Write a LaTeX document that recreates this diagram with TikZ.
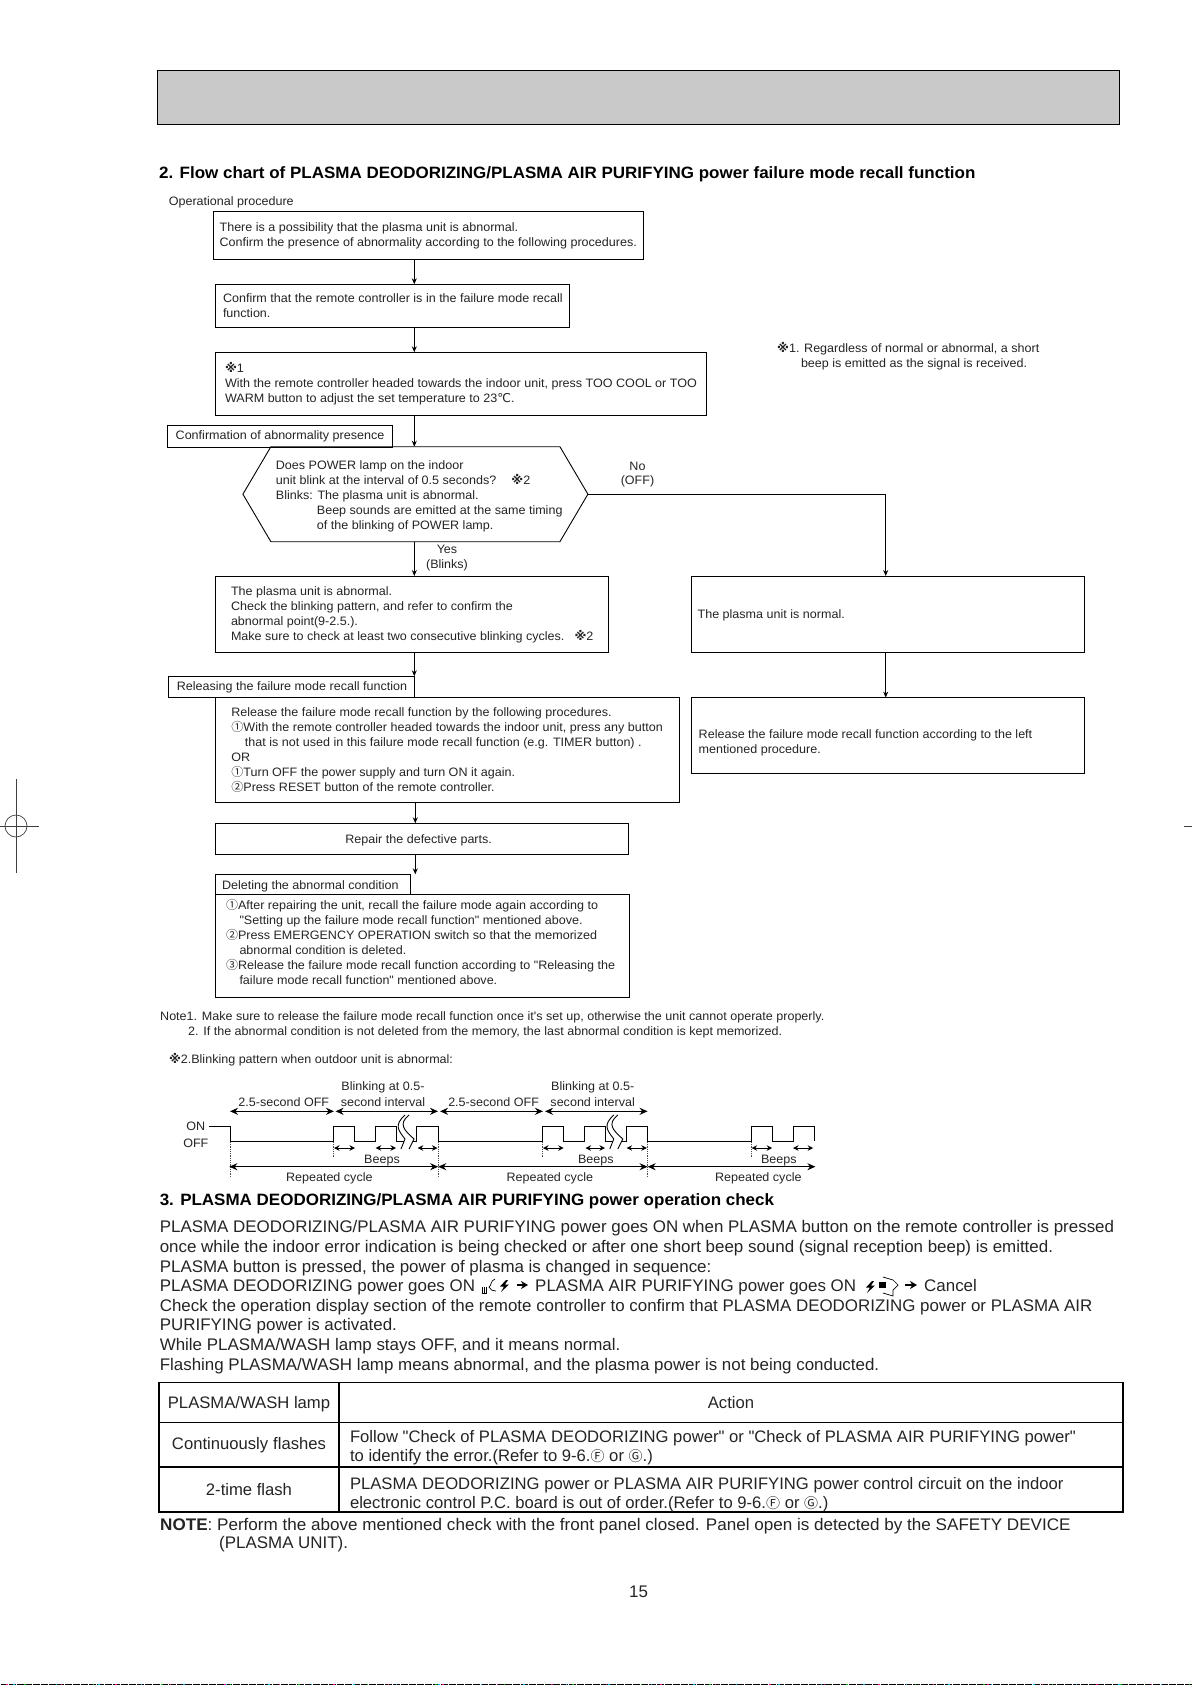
\documentclass[tikz,border=0pt]{standalone}
\usepackage{fontspec}
\newfontfamily\libf[FakeStretch=1.029]{Liberation Sans}
\newfontfamily\libb[FakeStretch=1.008]{Liberation Sans}
\newfontfamily\libn[FakeStretch=1.017]{Liberation Sans}
\newfontfamily\libh[FakeStretch=1.036]{Liberation Sans}
\newfontfamily\libt{Liberation Sans}
\newfontfamily\djv{DejaVu Sans}
\newfontfamily\cjkf{Noto Sans CJK JP}
\usetikzlibrary{arrows.meta,shapes.symbols}
\definecolor{ink}{gray}{0.14}
\newcommand\flowset{\libf\fontsize{12.2}{15}\selectfont}
\newcommand\bodyset{\libb\fontsize{16.8}{19.3}\selectfont}
\newcommand\tabset{\libt\fontsize{16.65}{19.3}\selectfont}
\newcommand\headset{\libh\fontsize{16.4}{19}\selectfont\bfseries}
\newcommand\dvs[1]{{\djv #1}}
\newcommand\circd[1]{{\cjkf\fontsize{12}{15}\selectfont #1}}
\newcommand\circl[1]{{\cjkf\fontsize{14}{19.3}\selectfont #1}}
\newcommand\smk{{\djv\bfseries ※}}
\tikzset{
 x=1pt,y=-1pt,
 boxst/.style={draw=black,line width=0.9pt,inner sep=0pt,outer sep=0pt,text=ink},
 cellst/.style={draw=black,line width=1.1pt,inner sep=0pt,outer sep=0pt,text=ink},
 txt/.style={inner sep=0pt,anchor=base west,yshift=-4.3pt,text=ink,font=\flowset},
 txc/.style={inner sep=0pt,anchor=base,yshift=-4.3pt,text=ink,font=\flowset},
 bodyt/.style={inner sep=0pt,anchor=base west,yshift=-6pt,text=ink,font=\bodyset},
 bodyc/.style={inner sep=0pt,anchor=base,yshift=-6pt,text=ink,font=\bodyset},
 conn/.style={draw=black,line width=0.9pt,-{Stealth[length=6pt,width=5pt]}},
 dim/.style={draw=black,line width=1.5pt,{Stealth[length=8pt,width=7pt]}-{Stealth[length=8pt,width=7pt]}},
 dimsm/.style={draw=black,line width=1pt,{Stealth[length=5.5pt,width=5.5pt]}-{Stealth[length=5.5pt,width=5.5pt]}},
 wave/.style={draw=black,line width=1pt},
 guide/.style={draw=black!70,line width=0.8pt,densely dotted},
 crop/.style={draw=black!75,line width=0.7pt},
 heading/.style={inner sep=0pt,anchor=base west,yshift=-6pt,text=black,font=\headset},
}
% [style]{name}{x1}{y1}{x2}{y2}{inset}{centre y of first line}{text}
\newcommand\fb[9][boxst]{%
 \pgfmathsetmacro\fbw{#5-#3}\pgfmathsetmacro\fbh{#6-#4}\pgfmathsetmacro\fbt{#8+4.3-#4-14}%
 \node[#1,anchor=north west] (#2) at (#3,#4) {\parbox[c][\fbh pt][t]{\fbw pt}{\flowset\leftskip=#7pt\rightskip=0pt plus 1fil\vspace*{\fbt pt}\rule{0pt}{14pt}#9}};}
\begin{document}
\begin{tikzpicture}
\useasboundingbox (0,0) rectangle (1192,1685);
% header
\node[draw=black,line width=0.9pt,fill=black!21,minimum width=962pt,minimum height=54.5pt,anchor=north west,inner sep=0pt] (hdr) at (157,70) {};
\node[heading] (title) at (159,173) {2. Flow chart of PLASMA DEODORIZING/PLASMA AIR PURIFYING power failure mode recall function};
\node[txt] (op) at (168.6,201.7) {Operational procedure};
% flow boxes
\coordinate (axis) at (414.3,0);
\fb{b1}{213.6}{211.7}{643.6}{259.3}{6}{227.3}{There is a possibility that the plasma unit is abnormal.\\Confirm the presence of abnormality according to the following procedures.}
\fb{b2}{215.4}{284.3}{569.6}{327.3}{7.6}{298.7}{Confirm that the remote controller is in the failure mode recall\\function.}
\fb{b3}{215.4}{352.3}{706.8}{415.7}{9.6}{368.3}{\smk 1\\With the remote controller headed towards the indoor unit, press TOO COOL or TOO\\WARM button to adjust the set temperature to 23\dvs{℃}.}
\fb{lconf}{167}{425.3}{392.5}{447.3}{8.7}{435.3}{Confirmation of abnormality presence}
\node[draw=black,line width=0.9pt,shape=signal,signal to=east and west,signal pointer angle=119,minimum width=345pt,minimum height=95pt,inner sep=0pt,outer sep=0pt] (hex) at (415.4,494.2) {};
\node[txt,align=left,font=\flowset,anchor=north west,yshift=0pt] (hext) at (275.7,453.6) {\rule{0pt}{11pt}Does POWER lamp on the indoor\\unit blink at the interval of 0.5 seconds?\hspace{15pt}\smk 2\\Blinks: The plasma unit is abnormal.\\\hspace{41pt}Beep sounds are emitted at the same timing\\\hspace{41pt}of the blinking of POWER lamp.};
\node[txc] (no) at (637.5,465.7) {No};
\node[txc] (off) at (637.5,480) {(OFF)};
\node[txc] (yes) at (447,549) {Yes};
\node[txc] (bl) at (447,564) {(Blinks)};
\fb{b4}{215}{576}{608.4}{652.5}{16}{591.5}{The plasma unit is abnormal.\\Check the blinking pattern, and refer to confirm the\\abnormal point(9-2.5.).\\Make sure to check at least two consecutive blinking cycles.\hspace{10pt}\smk 2}
\fb{b5}{691}{576}{1084.6}{652.5}{6.6}{613.8}{The plasma unit is normal.}
\fb{b6}{691}{697.6}{1084.6}{773}{7.7}{734}{Release the failure mode recall function according to the left\\mentioned procedure.}
\fb{lrel}{168.2}{676.3}{414.3}{697.3}{8.6}{686.3}{Releasing the failure mode recall function}
\fb{b7}{215.4}{697.3}{679.6}{802.3}{16}{711.7}{Release the failure mode recall function by the following procedures.\\\circd{①}With the remote controller headed towards the indoor unit, press any button\\\hspace*{13.5pt}that is not used in this failure mode recall function (e.g. TIMER button) .\\OR\\\circd{①}Turn OFF the power supply and turn ON it again.\\\circd{②}Press RESET button of the remote controller.}
\fb{b8}{215.4}{823.3}{628.6}{854.3}{130}{838.7}{Repair the defective parts.}
\fb{ldel}{215.4}{874.3}{410.7}{894.3}{6.6}{884.7}{Deleting the abnormal condition}
\fb{b9}{215.4}{894.3}{629.6}{997.3}{10.6}{904.7}{\circd{①}After repairing the unit, recall the failure mode again according to\\\hspace*{13.5pt}"Setting up the failure mode recall function" mentioned above.\\\circd{②}Press EMERGENCY OPERATION switch so that the memorized\\\hspace*{13.5pt}abnormal condition is deleted.\\\circd{③}Release the failure mode recall function according to "Releasing the\\\hspace*{13.5pt}failure mode recall function" mentioned above.}
% connectors
\draw[conn] (b1.south -| axis) -- (b2.north -| axis);
\draw[conn] (b2.south -| axis) -- (b3.north -| axis);
\draw[conn] (b3.south -| axis) -- (hex.north -| axis);
\draw[conn] (hex.south -| axis) -- (b4.north -| axis);
\draw[conn] (b4.south -| axis) -- (lrel.north -| axis);
\coordinate (axb) at (415.3,0);
\draw[conn] (b7.south -| axb) -- (b8.north -| axb);
\draw[conn] (b8.south -| axb) -- (ldel.north -| axb);
\coordinate (axr) at (885.7,0);
\draw[conn] (hex.east) -- (hex.east -| axr) -- (b5.north -| axr);
\draw[conn] (b5.south -| axr) -- (b6.north -| axr);
% side note
\node[txt] (n1) at (777,348) {\smk 1. Regardless of normal or abnormal, a short};
\node[txt] (n1b) at (800.8,363) {beep is emitted as the signal is received.};
% notes
\node[txt] (n2) at (160,1016) {Note1. Make sure to release the failure mode recall function once it's set up, otherwise the unit cannot operate properly.};
\node[txt] (n3) at (188,1031) {2. If the abnormal condition is not deleted from the memory, the last abnormal condition is kept memorized.};
\node[txt] (n4) at (168.8,1058.8) {\smk 2.Blinking pattern when outdoor unit is abnormal:};
% timing chart
\node[txc] (ton) at (195.8,1126) {ON};
\node[txc] (toff) at (195.8,1142.7) {OFF};
\draw[wave] (209.2,1126) -- (230.2,1126) -- (230.2,1141.3) -- (333.8,1141.3) -- (333.8,1126) -- (354.7,1126) -- (354.7,1141.3) -- (375.7,1141.3) -- (375.7,1126) -- (396.3,1126) -- (396.3,1141.3) -- (416.8,1141.3) -- (416.8,1126) -- (438.2,1126) -- (438.2,1141.3) -- (542.2,1141.3) -- (542.2,1126) -- (563.7,1126) -- (563.7,1141.3) -- (584.6,1141.3) -- (584.6,1126) -- (605.6,1126) -- (605.6,1141.3) -- (626.6,1141.3) -- (626.6,1126) -- (647.6,1126) -- (647.6,1141.3) -- (751.6,1141.3) -- (751.6,1126) -- (772.6,1126) -- (772.6,1141.3) -- (793,1141.3) -- (793,1126) -- (814,1126) -- (814,1141.3);
\foreach \dx in {0,208.8}{
 \fill[white] (405+\dx,1115) .. controls (394+\dx,1125) and (398+\dx,1130) .. (405+\dx,1139) -- (401+\dx,1149) -- (409+\dx,1149) -- (414+\dx,1139) .. controls (404+\dx,1130) and (398+\dx,1124) .. (409+\dx,1115) -- cycle;
 \draw[line width=0.9pt] (405+\dx,1115) .. controls (394+\dx,1125) and (398+\dx,1130) .. (405+\dx,1139) -- (401+\dx,1149);
 \draw[line width=0.9pt] (409+\dx,1115) .. controls (398+\dx,1124) and (404+\dx,1130) .. (414+\dx,1139) -- (409+\dx,1149);
}
\draw[guide] (230.2,1142) -- (230.2,1177);
\draw[guide] (333.8,1142) -- (333.8,1158);
\draw[guide] (438.2,1142) -- (438.2,1177);
\draw[guide] (542.2,1142) -- (542.2,1158);
\draw[guide] (647.6,1142) -- (647.6,1177);
\draw[guide] (751.6,1142) -- (751.6,1158);
\draw[dim] (230,1111.3) -- (334,1111.3);
\draw[dim] (335.5,1111.3) -- (438,1111.3);
\draw[dim] (440,1111.3) -- (543,1111.3);
\draw[dim] (545,1111.3) -- (647.6,1111.3);
\draw[dimsm] (334,1148) -- (355,1148);
\draw[dimsm] (375.7,1148) -- (396,1148);
\draw[dimsm] (417.7,1148) -- (437.5,1148);
\draw[dimsm] (543,1148) -- (563.7,1148);
\draw[dimsm] (585.5,1148) -- (605,1148);
\draw[dimsm] (626.6,1148) -- (646.8,1148);
\draw[dimsm] (751.6,1148) -- (772.2,1148);
\draw[dimsm] (793,1148) -- (813.2,1148);
\draw[dim] (229.3,1166.7) -- (438.2,1166.7);
\draw[dim] (438.2,1166.7) -- (647.6,1166.7);
\draw[dim] (647.6,1166.7) -- (815.4,1166.7);
\node[txc] (t1) at (283.8,1101.7) {2.5-second OFF};
\node[txc] (t2) at (383,1101.7) {second interval};
\node[txc] (t3) at (383,1085.8) {Blinking at 0.5-};
\node[txc] (t4) at (493.6,1101.7) {2.5-second OFF};
\node[txc] (t5) at (592.7,1101.7) {second interval};
\node[txc] (t6) at (592.7,1085.8) {Blinking at 0.5-};
\node[txc] (t7) at (382,1158.7) {Beeps};
\node[txc] (t8) at (595.8,1158.7) {Beeps};
\node[txc] (t9) at (778.8,1158.7) {Beeps};
\node[txc] (t10) at (329.3,1177) {Repeated cycle};
\node[txc] (t11) at (549.8,1177) {Repeated cycle};
\node[txc] (t12) at (758.3,1177) {Repeated cycle};
% section 3
\node[heading] (s3) at (159.6,1199) {3. PLASMA DEODORIZING/PLASMA AIR PURIFYING power operation check};
\node[bodyt] (l1) at (159.6,1226.5) {PLASMA DEODORIZING/PLASMA AIR PURIFYING power goes ON when PLASMA button on the remote controller is pressed};
\node[bodyt] (l2) at (159.6,1246.5) {once while the indoor error indication is being checked or after one short beep sound (signal reception beep) is emitted.};
\node[bodyt] (l3) at (159.6,1266) {PLASMA button is pressed, the power of plasma is changed in sequence:};
\node[bodyt] (l4a) at (159.6,1285.6) {PLASMA DEODORIZING power goes ON};
\node[bodyt] (l4b) at (535,1285.6) {PLASMA AIR PURIFYING power goes ON};
\node[bodyt] (l4c) at (924,1285.6) {Cancel};
\node[bodyt] (l5) at (159.6,1305) {Check the operation display section of the remote controller to confirm that PLASMA DEODORIZING power or PLASMA AIR};
\node[bodyt] (l6) at (159.6,1324) {PURIFYING power is activated.};
\node[bodyt] (l7) at (159.6,1344.7) {While PLASMA/WASH lamp stays OFF, and it means normal.};
\node[bodyt] (l8) at (159.6,1364) {Flashing PLASMA/WASH lamp means abnormal, and the plasma power is not being conducted.};
% icons in line 4
\draw[line width=0.8pt] (482,1287) -- (482,1293) (484,1287) -- (484,1293) (486,1287) -- (486,1293) (481.5,1293) -- (487,1293);
\draw[line width=0.7pt] (495,1279) .. controls (490,1281) and (492,1285) .. (489,1287) .. controls (490,1290) and (493,1291) .. (496,1291);
\foreach \bx/\by in {499/1280,865/1281}{
 \fill[black] (\bx+7,\by) -- (\bx+1,\by+6.5) -- (\bx+5,\by+6.5) -- (\bx+2,\by+12) -- (\bx+10,\by+4.5) -- (\bx+6,\by+4.5) -- (\bx+9,\by) -- cycle;
}
\fill[black] (879,1282) rectangle (886,1288);
\draw[line width=0.7pt] (883,1277) -- (893,1280) -- (898,1285) -- (893,1290) -- (893,1296) -- (883,1293);
\draw[-{Stealth[length=7pt,width=8pt]},line width=1.5pt] (517,1285) -- (528,1285);
\draw[-{Stealth[length=7pt,width=8pt]},line width=1.5pt] (905,1285) -- (917,1285);
% table
\fb[cellst]{c11}{159}{1382.5}{339}{1422.5}{0}{1404.5}{\tabset\centering PLASMA/WASH lamp}
\fb[cellst]{c12}{339}{1382.5}{1123}{1422.5}{0}{1404.5}{\tabset\centering Action}
\fb[cellst]{c21}{159}{1422.5}{339}{1467}{0}{1445}{\tabset\centering Continuously\hspace{5pt}flashes}
\fb[cellst]{c22}{339}{1422.5}{1123}{1467}{11}{1438}{\tabset Follow "Check of PLASMA DEODORIZING power" or "Check of PLASMA AIR PURIFYING power"\\to identify the error.(Refer to 9-6.\circl{Ⓕ} or \circl{Ⓖ}.)}
\fb[cellst]{c31}{159}{1467}{339}{1512}{0}{1491}{\tabset\centering 2-time flash}
\fb[cellst]{c32}{339}{1467}{1123}{1512}{11}{1485}{\tabset PLASMA DEODORIZING power or PLASMA AIR PURIFYING power control circuit on the indoor\\electronic control P.C. board is out of order.(Refer to 9-6.\circl{Ⓕ} or \circl{Ⓖ}.)}
\node[bodyt,font=\libn\fontsize{16.8}{19.3}\selectfont] (nt) at (160,1524) {\textbf{NOTE}: Perform the above mentioned check with the front panel closed. Panel open is detected by the SAFETY DEVICE};
\node[bodyt] (nt2) at (219,1542) {(PLASMA UNIT).};
\node[bodyc] (pg) at (638.5,1591) {15};
% crop marks
\draw[crop] (16,779) -- (16,873);
\draw[crop] (0,826) -- (39,826);
\draw[crop] (16,826) circle (11);
\draw[crop] (1184,826) -- (1192,826);
% bottom edge strip
\draw[line width=1.2pt,dash pattern=on 7pt off 1pt] (1,1684.2) -- (1192,1684.2);
\draw[line width=1.2pt,magenta,dash pattern=on 1.5pt off 53pt] (6,1684.2) -- (1192,1684.2);
\draw[line width=1.2pt,green!70!black,dash pattern=on 1.5pt off 67pt] (24,1684.2) -- (1192,1684.2);
\draw[line width=1.2pt,cyan,dash pattern=on 1.5pt off 41pt] (13,1684.2) -- (1192,1684.2);
\end{tikzpicture}
\end{document}
